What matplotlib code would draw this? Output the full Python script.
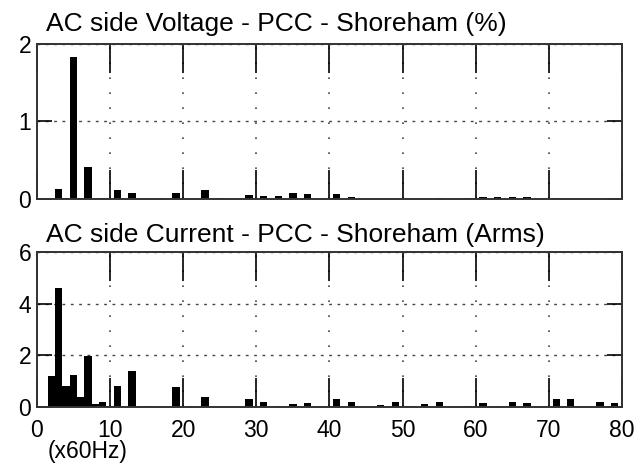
import numpy as np
import matplotlib
matplotlib.use("Agg")
from matplotlib import pyplot as plt

plt.rcParams['font.family'] = ['Liberation Sans', 'DejaVu Sans']

# harmonic orders (x60Hz) and magnitudes
v_harm = [2, 3, 4, 5, 6, 7, 9, 11, 13, 17, 19, 23, 25, 29, 31, 33, 35, 37,
          41, 43, 55, 59, 61, 63, 65, 67, 71]
v_vals = [0.015, 0.13, 0.015, 1.83, 0.015, 0.41, 0.015, 0.12, 0.08, 0.015, 0.08,
          0.11, 0.015, 0.05, 0.04, 0.04, 0.08, 0.06,
          0.06, 0.02, 0.015, 0.015, 0.03, 0.02, 0.025, 0.02, 0.015]

i_harm = [2, 3, 4, 5, 6, 7, 8, 9, 10, 11, 13, 15, 19, 21, 23, 29, 31, 33, 35, 37,
          41, 43, 47, 49, 51, 53, 55, 59, 61, 63, 65, 67, 71, 73, 77, 79]
i_vals = [1.2, 4.6, 0.81, 1.25, 0.39, 1.96, 0.12, 0.2, 0.05, 0.81, 1.38, 0.03,
          0.77, 0.03, 0.39, 0.3, 0.2, 0.03, 0.09, 0.15,
          0.32, 0.18, 0.06, 0.18, 0.03, 0.12, 0.18, 0.03, 0.14, 0.04, 0.19, 0.13,
          0.32, 0.3, 0.19, 0.14]

x_ticks = [0, 10, 20, 30, 40, 50, 60, 70, 80]
v_ticks = [0, 1, 2]
i_ticks = [0, 2, 4, 6]

fig = plt.figure(figsize=(6.36, 4.66), dpi=100)
ax1 = fig.add_axes([0.058, 0.573, 0.920, 0.333])
ax2 = fig.add_axes([0.058, 0.127, 0.920, 0.332])

fs_title = 19
fs_tick = 16.5


def style(ax, yticks, ymax):
    ax.set_xlim(0, 80)
    ax.set_ylim(0, ymax)
    ax.set_xticks(x_ticks)
    ax.set_yticks(yticks)
    ax.grid(True, axis="x", color="#444444", linestyle=(0, (1, 8)), linewidth=1.2)
    ax.grid(True, axis="y", color="#444444", linestyle=(0, (2, 4)), linewidth=1)
    ax.set_axisbelow(True)
    ax.tick_params(axis="x", direction="in", length=21, width=1.2, top=True,
                   labelsize=fs_tick, pad=9, colors="black")
    ax.tick_params(axis="y", direction="in", length=11, width=1.2, right=True,
                   labelsize=fs_tick, pad=4)
    for s in ax.spines.values():
        s.set_linewidth(1.4)
        s.set_color("#333333")


ax1.bar(v_harm, v_vals, width=1.0, color="black", linewidth=0)
style(ax1, v_ticks, 2)
ax1.set_xticklabels([])
ax1.text(0.016, 1.081, "AC side Voltage - PCC - Shoreham (%)", transform=ax1.transAxes,
         fontsize=fs_title, ha="left", va="baseline")

ax2.bar(i_harm, i_vals, width=1.0, color="black", linewidth=0)
style(ax2, i_ticks, 6)
ax2.text(0.016, 1.068, "AC side Current - PCC - Shoreham (Arms)", transform=ax2.transAxes,
         fontsize=fs_title, ha="left", va="baseline")

fig.text(0.137, 0.006, "(x60Hz)", fontsize=fs_tick, ha="center", va="bottom")

fig.savefig("out.png", dpi=100)
